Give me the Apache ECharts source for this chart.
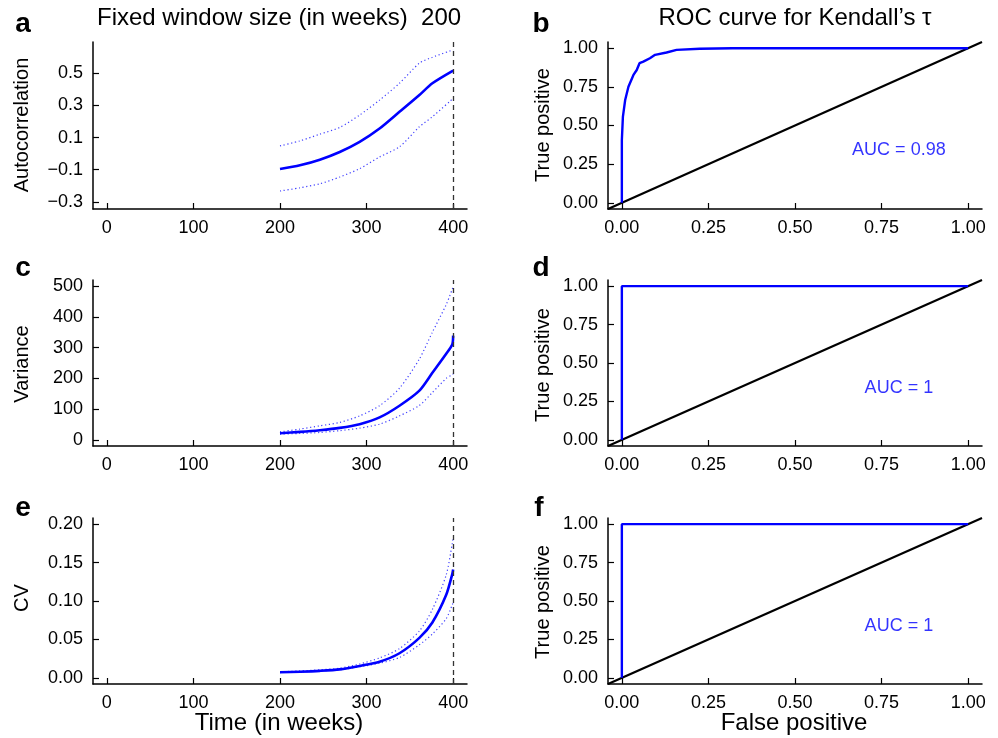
<!DOCTYPE html>
<html><head><meta charset="utf-8">
<script src="https://cdn.jsdelivr.net/npm/echarts@6/dist/echarts.min.js"></script>
<style>html,body{margin:0;padding:0;background:#fff}#c{width:998px;height:738px}</style>
</head><body><div id="c"></div>
<script>
// ---- data ----
const weeksAC = [200,223,246,269,292,315,338,361,376,400];
const acMean  = [-0.096,-0.073,-0.038,0.010,0.073,0.156,0.260,0.365,0.438,0.517];
const acUpper = [0.048,0.079,0.121,0.163,0.240,0.333,0.438,0.563,0.600,0.646];
const acLower = [-0.233,-0.213,-0.188,-0.146,-0.094,-0.021,0.042,0.167,0.229,0.344];

const weeksVC = [200,223,246,269,292,315,338,361,376,392,399,400];
const varMean  = [21.7,26,31.5,39,51,73,111,160,218,280,310,339];
const varUpper = [26,35,45.6,56.5,78,111,168,263,350,440,490,497];
const varLower = [18.5,21,24,30,38,51,78,112,154,200,212,214];

const cvMean  = [0.0073,0.008,0.0091,0.011,0.0155,0.021,0.032,0.052,0.072,0.108,0.135,0.141];
const cvUpper = [0.0078,0.009,0.0105,0.0125,0.018,0.026,0.038,0.061,0.089,0.134,0.175,0.184];
const cvLower = [0.0069,0.0078,0.009,0.0105,0.0145,0.019,0.0265,0.043,0.057,0.077,0.095,0.098];

const rocFprAC = [0,0,0.003,0.0096,0.019,0.0335,0.043,0.051,0.062,0.081,0.096,0.129,0.158,0.225,0.32,1];
const rocTprAC = [0,0.405,0.556,0.665,0.751,0.827,0.859,0.903,0.913,0.935,0.957,0.972,0.989,0.996,1,1];
const rocFprVar = [0,0,1];
const rocTprVar = [0,1,1];
const rocFprCV = [0,0,1];
const rocTprCV = [0,1,1];
const diag = [-0.04,1.04];

const timeTicks = [0,100,200,300,400];
const rocTicks = [0,0.25,0.5,0.75,1];
const acTicks = [-0.3,-0.1,0.1,0.3,0.5];
const varTicks = [0,100,200,300,400,500];
const cvTicks = [0,0.05,0.1,0.15,0.2];
const aucLabels = ['AUC = 0.98','AUC = 1','AUC = 1'];
const aucPos = [0.8,0.34];
const cutoff = 400;

// ---- helpers ----
const FONT = '"Liberation Sans", Arial, Helvetica, sans-serif';
const BLUE = '#0000ff';
const zip = (xs, ys) => xs.map((x,i)=>[x, ys[i]]);
const minus = s => s.replace('-', '\u2212');

function axis(gi, min, max, ticks, fmt, isX){
  return {
    type:'value', gridIndex:gi, min:min, max:max,
    axisLine:{show:true, onZero:false, lineStyle:{color:'#000', width:1.5}},
    axisTick:{show:true, inside:true, length:6, customValues:ticks, lineStyle:{color:'#000', width:1.2}},
    axisLabel:{show:true, customValues:ticks, formatter:fmt, color:'#000', fontSize:18, fontFamily:FONT, margin:10},
    splitLine:{show:false}
  };
}
const grids = [
  {left:93, top:42, width:374, height:167},
  {left:608, top:42, width:374, height:167},
  {left:93, top:280, width:374, height:166},
  {left:608, top:280, width:374, height:166},
  {left:93, top:518, width:374, height:166},
  {left:608, top:518, width:374, height:166}
];
const f0 = v => String(Math.round(v));
const f2 = v => minus(v.toFixed(2));
const f1 = v => minus(v.toFixed(1));

const xAxes = [], yAxes = [];
for (let r=0;r<3;r++){
  xAxes.push(axis(2*r, -16, 416, timeTicks, f0, true));
  xAxes.push(axis(2*r+1, -0.04, 1.04, rocTicks, f2, true));
}
yAxes.push(axis(0, -0.345, 0.695, acTicks, f1));
yAxes.push(axis(1, -0.04, 1.04, rocTicks, f2));
yAxes.push(axis(2, -20, 520, varTicks, f0));
yAxes.push(axis(3, -0.04, 1.04, rocTicks, f2));
yAxes.push(axis(4, -0.008, 0.208, cvTicks, f2));
yAxes.push(axis(5, -0.04, 1.04, rocTicks, f2));

const series = [];
function timePanel(gi, xs, mean, up, lo){
  const dot = {color:'#4040ff', width:1.2, type:[1.2,2.6]};
  series.push({type:'line', xAxisIndex:gi, yAxisIndex:gi, data:zip(xs,up), showSymbol:false, smooth:0.25, lineStyle:dot});
  series.push({type:'line', xAxisIndex:gi, yAxisIndex:gi, data:zip(xs,lo), showSymbol:false, smooth:0.25, lineStyle:dot});
  series.push({type:'line', xAxisIndex:gi, yAxisIndex:gi, data:zip(xs,mean), showSymbol:false, smooth:0.25,
    lineStyle:{color:BLUE, width:2.6, join:'round'},
    markLine:{silent:true, symbol:'none', label:{show:false},
      lineStyle:{color:'#333', width:1.3, type:[5,4]}, data:[{xAxis:cutoff}]}});
}
function rocPanel(gi, fpr, tpr, label){
  series.push({type:'line', xAxisIndex:gi, yAxisIndex:gi, data:zip(diag,diag), showSymbol:false, lineStyle:{color:'#000', width:2.2}});
  series.push({type:'line', xAxisIndex:gi, yAxisIndex:gi, data:zip(fpr,tpr), showSymbol:false, lineStyle:{color:BLUE, width:2.4}});
  series.push({type:'scatter', xAxisIndex:gi, yAxisIndex:gi, data:[aucPos], symbolSize:0,
    label:{show:true, position:'inside', formatter:label, color:BLUE, fontSize:18, fontFamily:FONT}});
}
timePanel(0, weeksAC, acMean, acUpper, acLower);
rocPanel(1, rocFprAC, rocTprAC, aucLabels[0]);
timePanel(2, weeksVC, varMean, varUpper, varLower);
rocPanel(3, rocFprVar, rocTprVar, aucLabels[1]);
timePanel(4, weeksVC, cvMean, cvUpper, cvLower);
rocPanel(5, rocFprCV, rocTprCV, aucLabels[2]);

function txt(t, x, y, size, opts){
  opts = opts || {};
  return {type:'text', x:x, y:y, rotation:opts.rot||0, silent:true,
    style:{text:t, fontSize:size, fontFamily:FONT, fontWeight:opts.bold?'bold':'normal', fill:'#000',
      align:opts.align||'center', verticalAlign:'middle'}};
}
const graphic = [
  txt('a', 23, 24, 28, {bold:true}), txt('b', 541, 24, 28, {bold:true}),
  txt('c', 23, 268, 28, {bold:true}), txt('d', 541, 268, 28, {bold:true}),
  txt('e', 23, 508, 28, {bold:true}), txt('f', 539, 508, 28, {bold:true}),
  txt('Fixed window size (in weeks)  200', 97, 18, 24, {align:'left'}),
  txt('ROC curve for Kendall\u2019s \u03c4', 795, 18, 24),
  txt('Autocorrelation', 22.5, 125, 20, {rot:Math.PI/2}),
  txt('Variance', 22.5, 364, 20, {rot:Math.PI/2}),
  txt('CV', 22.5, 598, 20, {rot:Math.PI/2}),
  txt('True positive', 543, 125, 20, {rot:Math.PI/2}),
  txt('True positive', 543, 365, 20, {rot:Math.PI/2}),
  txt('True positive', 543, 602, 20, {rot:Math.PI/2}),
  txt('Time (in weeks)', 279, 723, 24),
  txt('False positive', 794, 723, 24)
];

const chart = echarts.init(document.getElementById('c'), null, {renderer:'canvas'});
chart.setOption({
  animation:false, backgroundColor:'#fff',
  grid:grids, xAxis:xAxes, yAxis:yAxes, series:series, graphic:graphic
});
</script></body></html>
